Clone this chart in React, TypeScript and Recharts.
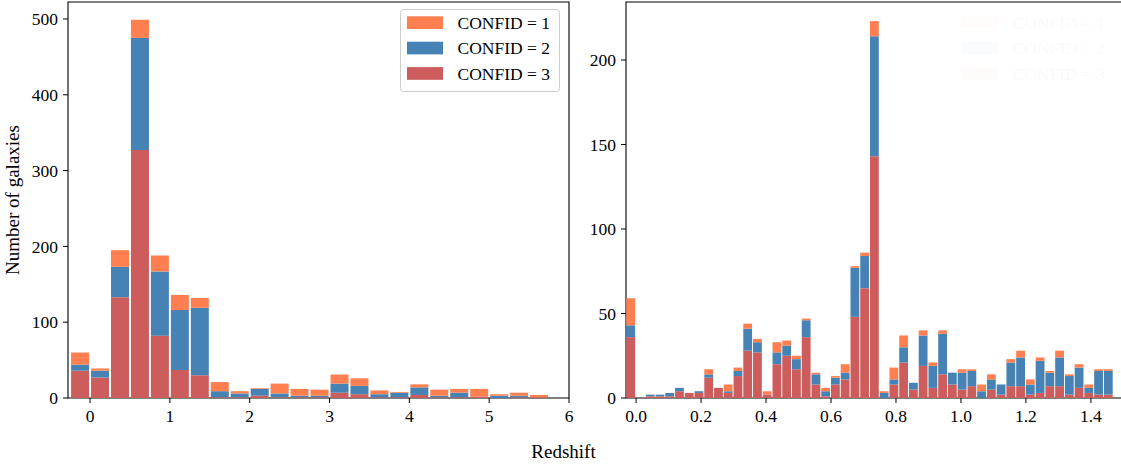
import React from 'react';
import { ComposedChart, Bar, XAxis, YAxis, ReferenceArea, Legend } from 'recharts';

const FONT = '"Liberation Serif", "Times New Roman", serif';
const C1 = '#FF7F50';
const C2 = '#4682B4';
const C3 = '#CD5C5C';

// Left panel: bins of width 0.25 from -0.25 to 5.75 (bin centres)
const leftBins = [-0.125, 0.125, 0.375, 0.625, 0.875, 1.125, 1.375, 1.625, 1.875, 2.125, 2.375, 2.625, 2.875, 3.125, 3.375, 3.625, 3.875, 4.125, 4.375, 4.625, 4.875, 5.125, 5.375, 5.625];
const leftConfid3 = [36, 27, 133, 327, 82, 37, 30, 1, 1, 3, 1, 1, 1, 7, 5, 1, 1, 4, 1, 1, 2, 0, 1, 1];
const leftConfid2 = [8, 9, 40, 148, 85, 79, 89, 8, 5, 9, 5, 2, 2, 12, 11, 4, 6, 10, 2, 6, 0, 3, 2, 0];
const leftConfid1 = [16, 3, 22, 24, 21, 20, 13, 12, 3, 1, 13, 9, 8, 12, 10, 5, 1, 4, 8, 5, 10, 2, 4, 3];
const leftXTicks = [0, 1, 2, 3, 4, 5, 6];
const leftYTicks = [0, 100, 200, 300, 400, 500];

// Right panel: bins of width 0.03 from -0.03 to 1.47 (bin centres)
const rightBins = [-0.015, 0.015, 0.045, 0.075, 0.105, 0.135, 0.165, 0.195, 0.225, 0.255, 0.285, 0.315, 0.345, 0.375, 0.405, 0.435, 0.465, 0.495, 0.525, 0.555, 0.585, 0.615, 0.645, 0.675, 0.705, 0.735, 0.765, 0.795, 0.825, 0.855, 0.885, 0.915, 0.945, 0.975, 1.005, 1.035, 1.065, 1.095, 1.125, 1.155, 1.185, 1.215, 1.245, 1.275, 1.305, 1.335, 1.365, 1.395, 1.425, 1.455];
const rightConfid3 = [36, 0, 1, 1, 1, 4, 3, 3, 12, 6, 3, 13, 28, 27, 2, 20, 25, 17, 36, 8, 1, 8, 11, 48, 65, 143, 0, 8, 21, 5, 19, 6, 14, 8, 5, 7, 0, 5, 2, 7, 7, 2, 3, 7, 7, 2, 6, 3, 2, 2];
const rightConfid2 = [7, 0, 1, 1, 2, 2, 0, 1, 2, 0, 1, 3, 13, 6, 0, 7, 6, 6, 10, 6, 3, 4, 4, 29, 19, 71, 3, 3, 9, 4, 18, 13, 24, 7, 10, 9, 4, 6, 6, 14, 17, 6, 19, 8, 17, 11, 12, 3, 14, 14];
const rightConfid1 = [16, 0, 0, 0, 0, 0, 0, 0, 3, 0, 4, 2, 3, 2, 2, 6, 3, 2, 1, 1, 2, 1, 5, 1, 2, 9, 1, 7, 7, 0, 3, 2, 2, 0, 2, 1, 4, 3, 0, 2, 4, 3, 2, 1, 4, 1, 2, 2, 1, 1];
const rightXTicks = [0, 0.2, 0.4, 0.6, 0.8, 1.0, 1.2, 1.4];
const rightYTicks = [0, 50, 100, 150, 200];

const legendLabels = ['CONFID = 1', 'CONFID = 2', 'CONFID = 3'];
const legendColors = [C1, C2, C3];

const leftData = leftBins.map((x, i) => ({ x, c1: leftConfid1[i], c2: leftConfid2[i], c3: leftConfid3[i] }));
const rightData = rightBins.map((x, i) => ({ x, c1: rightConfid1[i], c2: rightConfid2[i], c3: rightConfid3[i] }));

const tickStyle = { fill: '#000', fontSize: 17.5, fontFamily: FONT };

function LegendBox({ faint }: { faint?: boolean }) {
  return (
    <svg width={161} height={84} style={{ display: 'block', opacity: faint ? 0.015 : 1 }}>
      <rect x={0.5} y={0.5} width={159} height={82} rx={3} ry={3} fill="#fff" fillOpacity={0.8} stroke="#ccc" strokeWidth={1} />
      {legendLabels.map((lab, i) => (
        <g key={lab}>
          <rect x={7} y={7.3 + i * 25.4} width={36} height={12.7} fill={legendColors[i]} />
          <text x={57.5} y={13.7 + i * 25.4} dy="0.35em" fontSize={17.5} fontFamily={FONT} fill="#000">{lab}</text>
        </g>
      ))}
    </svg>
  );
}

export default function App() {
  return (
    <div style={{ position: 'absolute', left: 0, top: 0, width: 1121, height: 466, overflow: 'hidden', background: '#fff' }}>
      <div style={{ position: 'absolute', left: 0, top: 0 }}>
        <ComposedChart width={580} height={466} data={leftData} margin={{ top: 2, right: 11, bottom: 0, left: 0 }}>
          <XAxis type="number" dataKey="x" domain={[-0.276, 6]} ticks={leftXTicks} allowDataOverflow interval={0}
            height={68} tickSize={5} tickMargin={7} axisLine={false} tick={tickStyle} tickLine={{ stroke: '#000' }} />
          <YAxis type="number" domain={[0, 522.4]} ticks={leftYTicks} allowDataOverflow interval={0}
            width={68} tickSize={5} tickMargin={5} axisLine={false} tick={tickStyle} tickLine={{ stroke: '#000' }} />
          <Bar dataKey="c3" stackId="s" fill={C3} barSize={18} isAnimationActive={false} />
          <Bar dataKey="c2" stackId="s" fill={C2} barSize={18} isAnimationActive={false} />
          <Bar dataKey="c1" stackId="s" fill={C1} barSize={18} isAnimationActive={false} />
          <ReferenceArea x1={-0.276} x2={6} y1={0} y2={522.4} fill="none" stroke="#000" strokeWidth={1.1} ifOverflow="visible" />
          <Legend layout="horizontal" verticalAlign="middle" align="center" content={() => <LegendBox />}
            wrapperStyle={{ left: 400, top: 9, width: 161, height: 84 }} />
        </ComposedChart>
      </div>
      <div style={{ position: 'absolute', left: 560, top: 0 }}>
        <ComposedChart width={580} height={466} data={rightData} margin={{ top: 2, right: 14, bottom: 0, left: 0 }}>
          <XAxis type="number" dataKey="x" domain={[-0.031, 1.508]} ticks={rightXTicks} allowDataOverflow interval={0}
            tickFormatter={(v: number) => v.toFixed(1)}
            height={68} tickSize={5} tickMargin={7} axisLine={false} tick={tickStyle} tickLine={{ stroke: '#000' }} />
          <YAxis type="number" domain={[0, 234.3]} ticks={rightYTicks} allowDataOverflow interval={0}
            width={66} tickSize={5} tickMargin={5} axisLine={false} tick={tickStyle} tickLine={{ stroke: '#000' }} />
          <Bar dataKey="c3" stackId="s" fill={C3} barSize={8.8} isAnimationActive={false} />
          <Bar dataKey="c2" stackId="s" fill={C2} barSize={8.8} isAnimationActive={false} />
          <Bar dataKey="c1" stackId="s" fill={C1} barSize={8.8} isAnimationActive={false} />
          <ReferenceArea x1={-0.031} x2={1.508} y1={0} y2={234.3} fill="none" stroke="#000" strokeWidth={1.1} ifOverflow="visible" />
          <Legend layout="horizontal" verticalAlign="middle" align="center" content={() => <LegendBox faint />}
            wrapperStyle={{ left: 395, top: 9, width: 161, height: 84 }} />
        </ComposedChart>
      </div>
      <svg width={1121} height={466} style={{ position: 'absolute', left: 0, top: 0, pointerEvents: 'none' }}>
        <text transform="translate(18.5,200) rotate(-90)" textAnchor="middle" fontSize={19} fontFamily={FONT} fill="#000">Number of galaxies</text>
        <text x={563.5} y={458.3} textAnchor="middle" fontSize={19} fontFamily={FONT} fill="#000">Redshift</text>
      </svg>
    </div>
  );
}
